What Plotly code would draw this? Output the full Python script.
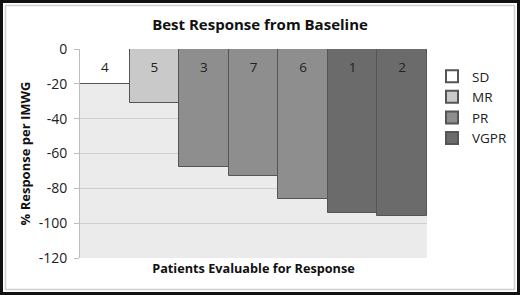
import plotly.graph_objects as go

patients = ["4", "5", "3", "7", "6", "1", "2"]
responses = [-20, -31, -68, -73, -86, -94, -96]
categories = ["SD", "MR", "PR", "PR", "PR", "VGPR", "VGPR"]
legend_order = ["SD", "MR", "PR", "VGPR"]
colors = {"SD": "#ffffff", "MR": "#c9c9c9", "PR": "#8e8e8e", "VGPR": "#6b6b6b"}
y_ticks = [0, -20, -40, -60, -80, -100, -120]

W, H = 520, 295
L, R, T, B = 80, 93, 49, 37
pw, ph = W - L - R, H - T - B

def px(x):
    return (x - L) / pw

def py(y):
    return (H - B - y) / ph

fig = go.Figure()
for cat in legend_order:
    xs = [p for p, c in zip(patients, categories) if c == cat]
    ys = [v for v, c in zip(responses, categories) if c == cat]
    fig.add_trace(go.Bar(
        x=xs, y=ys, name=cat,
        marker=dict(color=colors[cat], line=dict(color="#555555", width=1)),
    ))

# bar labels near the baseline
fig.add_trace(go.Scatter(
    x=patients, y=[-11.5] * len(patients), mode="text", text=patients,
    textfont=dict(size=13.5, color="#222222", family="Open Sans"),
    showlegend=False, hoverinfo="skip",
))

fig.update_layout(
    width=W, height=H,
    margin=dict(l=L, r=R, t=T, b=B, autoexpand=False),
    paper_bgcolor="white",
    plot_bgcolor="#ebebeb",
    barmode="overlay",
    bargap=0,
    font=dict(family="Open Sans", color="#222222"),
    title=dict(text="<b>Best Response from Baseline</b>", x=0.5, xanchor="center",
               y=1 - 25 / H, yanchor="middle", font=dict(size=15, color="#111111")),
    legend=dict(xref="container", yref="container", x=432 / W, y=1 - 61 / H,
                xanchor="left", yanchor="top",
                font=dict(size=13.5, color="#222222"), tracegroupgap=0,
                itemsizing="constant", bgcolor="rgba(0,0,0,0)"),
    showlegend=True,
    xaxis=dict(type="category", categoryorder="array", categoryarray=patients,
               range=[-0.5, len(patients) - 0.5],
               showticklabels=False, showgrid=False, zeroline=False, showline=False,
               title=dict(text="<b>Patients Evaluable for Response</b>",
                          font=dict(size=12.7, color="#111111"), standoff=6)),
    yaxis=dict(range=[-120, 0], tickvals=y_ticks, ticktext=[str(v) for v in y_ticks],
               showgrid=True, gridcolor="#cfcfcf", gridwidth=1, zeroline=False,
               showline=True, linecolor="#bdbdbd", ticks="outside", ticklen=5,
               tickcolor="#bdbdbd", tickfont=dict(size=14, color="#222222"),
               ticklabelstandoff=4,
               title=dict(text="<b>% Response per IMWG</b>",
                          font=dict(size=13, color="#111111"), standoff=5)),
    shapes=[
        dict(type="rect", xref="paper", yref="paper",
             x0=px(1.5), x1=px(518.5), y0=py(293.5), y1=py(1.5),
             line=dict(color="#111111", width=3), layer="above"),
        dict(type="rect", xref="paper", yref="paper",
             x0=px(5.5), x1=px(514.5), y0=py(289.5), y1=py(5.5),
             line=dict(color="#cfcfcf", width=1.5), layer="below"),
    ],
)

fig.write_html("out.html")
